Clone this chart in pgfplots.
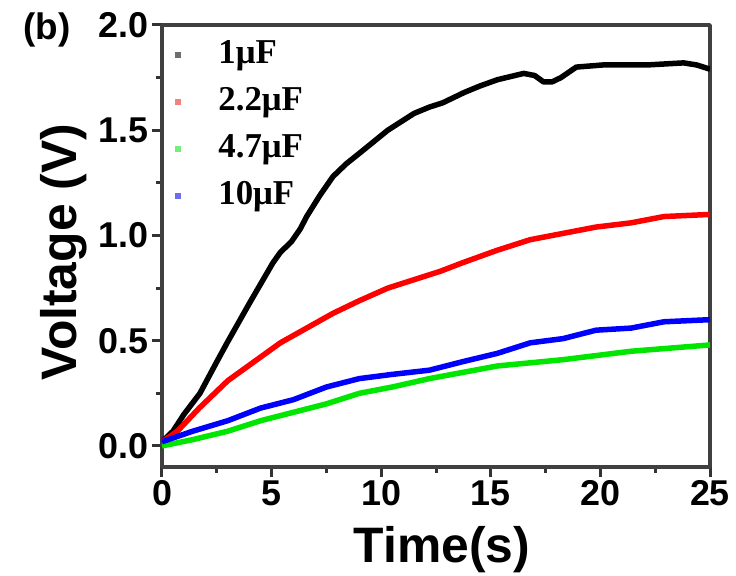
\documentclass[border=0pt]{standalone}
\usepackage{fontspec}
\setmainfont{Liberation Sans}
\newfontfamily\legfont{Liberation Serif}
\usepackage{pgfplots}
\pgfplotsset{compat=1.18}
\definecolor{legblack}{RGB}{110,110,110}
\definecolor{legred}{RGB}{240,130,130}
\definecolor{leggreen}{RGB}{120,235,120}
\definecolor{legblue}{RGB}{110,110,235}
\pgfplotsset{
  sqleg/.style={legend image code/.code={%
    \pgfpathrectanglecorners{\pgfpointorigin}{\pgfpoint{43bp}{0.1bp}}\pgfusepath{use as bounding box}%
    \fill[fill=#1, draw=none] (0bp,1bp) rectangle (6bp,7bp);}}
}

\begin{document}
\begin{tikzpicture}
\begin{axis}[
  scale only axis,
  width=548bp, height=442bp,
  xmin=0, xmax=25, ymin=-0.1, ymax=2.0,
  xtick={0,5,10,15,20,25}, ytick={0,0.5,1,1.5,2},
  minor x tick num=1, minor y tick num=1,
  tick pos=left, tick align=outside,
  major tick length=10bp, minor tick length=6bp,
  every tick/.style={line width=3bp, black!80},
  axis line style={line width=3.5bp, black!75},
  /pgf/number format/assume math mode=true,
  yticklabel style={/pgf/number format/.cd, fixed, fixed zerofill, precision=1},
  ticklabel style={font=\fontsize{36}{36}\selectfont\bfseries},
  xlabel={Time(s)}, ylabel={Voltage (V)},
  label style={font=\fontsize{50}{50}\selectfont\bfseries},
  xlabel style={at={(axis description cs:0.511,-0.217)}, anchor=base},
  ylabel style={at={(axis description cs:-0.13,0.486)}, anchor=south},
  legend style={draw=none, fill=none, inner sep=0pt, at={(axis description cs:0.024,0.976)}, anchor=north west,
    font=\legfont\fontsize{35}{35}\selectfont\bfseries,
    nodes={inner sep=0pt, text height=28bp, text depth=19bp}},
  legend cell align=left,
  line join=round,
]
\addplot[black, line width=5.5bp, sqleg=legblack] coordinates {
(0,0.02) (0.5,0.07) (1,0.15) (1.73,0.25) (2.5,0.40) (2.97,0.49) (4.0,0.68) (5.06,0.87)
(5.4,0.92) (5.9,0.97) (6.3,1.03) (6.6,1.09) (7.2,1.19) (7.8,1.28) (8.4,1.34) (9.0,1.39)
(10.3,1.50) (11.5,1.58) (12.2,1.61) (12.8,1.63) (13.3,1.655) (13.8,1.68) (14.5,1.71) (15.3,1.74) (16.5,1.77)
(17.0,1.76) (17.4,1.73) (17.8,1.73) (18.2,1.75) (18.9,1.80) (20.1,1.81) (22.1,1.81)
(23.8,1.82) (24.4,1.81) (25,1.79)};
\addlegendentry{1μF}
\addplot[red, line width=5.5bp, sqleg=legred] coordinates {
(0,0.02) (0.7,0.07) (1.7,0.18) (3.0,0.31) (4.2,0.40) (5.4,0.49) (6.6,0.56) (7.8,0.63)
(9.0,0.69) (10.3,0.75) (11.5,0.79) (12.7,0.83) (13.7,0.87) (15.3,0.93) (16.8,0.98)
(18.3,1.01) (19.8,1.04) (21.4,1.06) (22.9,1.09) (25,1.10)};
\addlegendentry{2.2μF}
\addplot[color={rgb,255:red,0;green,230;blue,0}, line width=5.5bp, sqleg=leggreen] coordinates {
(0,0.0) (1.4,0.03) (3.0,0.07) (4.5,0.12) (6.0,0.16) (7.5,0.20) (9.0,0.25) (10.5,0.28)
(12.2,0.32) (15.3,0.38) (18.3,0.41) (21.4,0.45) (25,0.48)};
\addlegendentry{4.7μF}
\addplot[blue, line width=5.5bp, sqleg=legblue] coordinates {
(0,0.02) (1.4,0.07) (3.0,0.12) (4.5,0.18) (6.0,0.22) (7.5,0.28) (9.0,0.32) (10.5,0.34)
(12.2,0.36) (13.7,0.40) (15.3,0.44) (16.8,0.49) (18.3,0.51) (19.8,0.55) (21.4,0.56)
(22.9,0.59) (25,0.60)};
\addlegendentry{10μF}
\end{axis}
\node[font=\fontsize{37}{37}\selectfont\bfseries] at ([shift={(-115bp,437bp)}]current axis.south west) {(b)};
\pgfresetboundingbox
\path ([shift={(-162bp,-109bp)}]current axis.south west) rectangle ++(736bp,576bp);
\end{tikzpicture}
\end{document}
